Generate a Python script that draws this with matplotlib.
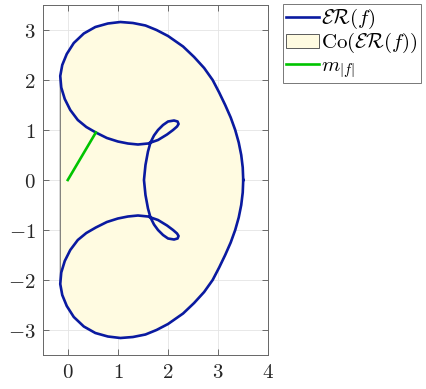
"""Essential range of f, its convex hull and the distance segment m_|f|."""

import numpy as np
import matplotlib

matplotlib.use("Agg")
import matplotlib.pyplot as plt
from matplotlib.patches import Polygon

# -----------------------------------------------------------------------------
# DATA
# -----------------------------------------------------------------------------
# boundary curve ER(f), traced counter-clockwise starting at the rightmost point
curve_x = [
    3.50, 3.49, 3.46, 3.41, 3.34, 3.25, 3.14, 3.02, 2.89, 2.72, 2.52, 2.30,
    2.00, 1.77, 1.55, 1.30, 1.05, 0.80, 0.55, 0.32, 0.12, -0.02, -0.11, -0.15,
    -0.13, -0.06, 0.05, 0.20, 0.37, 0.56, 0.78, 1.00, 1.20, 1.40, 1.60, 1.80,
    1.98, 2.10, 2.18, 2.21, 2.19, 2.12, 2.00, 1.90, 1.80, 1.72, 1.65, 1.60,
    1.55, 1.52,
    1.55, 1.60, 1.65, 1.72, 1.80, 1.90, 2.00, 2.12, 2.19, 2.21, 2.18, 2.10,
    1.98, 1.80, 1.60, 1.40, 1.20, 1.00, 0.78, 0.56, 0.37, 0.20, 0.05, -0.06,
    -0.13, -0.15, -0.11, -0.02, 0.12, 0.32, 0.55, 0.80, 1.05, 1.30, 1.55, 1.77,
    2.00, 2.30, 2.52, 2.72, 2.89, 3.02, 3.14, 3.25, 3.34, 3.41, 3.46, 3.49,
    3.50,
]
curve_y = [
    0.00, 0.25, 0.50, 0.75, 1.00, 1.25, 1.50, 1.75, 2.00, 2.24, 2.46, 2.67,
    2.88, 3.00, 3.09, 3.14, 3.16, 3.13, 3.06, 2.93, 2.74, 2.52, 2.30, 2.08,
    1.85, 1.62, 1.40, 1.20, 1.06, 0.95, 0.84, 0.77, 0.73, 0.71, 0.73, 0.80,
    0.91, 1.00, 1.07, 1.12, 1.17, 1.19, 1.17, 1.10, 1.00, 0.89, 0.75, 0.57,
    0.30, 0.00,
    -0.30, -0.57, -0.75, -0.89, -1.00, -1.10, -1.17, -1.19, -1.17, -1.12, -1.07, -1.00,
    -0.91, -0.80, -0.73, -0.71, -0.73, -0.77, -0.84, -0.95, -1.06, -1.20, -1.40, -1.62,
    -1.85, -2.08, -2.30, -2.52, -2.74, -2.93, -3.06, -3.13, -3.16, -3.14, -3.09, -3.00,
    -2.88, -2.67, -2.46, -2.24, -2.00, -1.75, -1.50, -1.25, -1.00, -0.75, -0.50, -0.25,
    0.00,
]

# segment from the origin to the nearest point of the range
m_x = [0.0, 0.56]
m_y = [0.0, 0.95]

xticks = [0, 1, 2, 3, 4]
yticks = [-3, -2, -1, 0, 1, 2, 3]

labels = [r"$\mathcal{ER}(f)$", r"$\mathrm{Co}(\mathcal{ER}(f))$", r"$m_{|f|}$"]

CURVE_COLOR = "#0a1aa0"
HULL_COLOR = "#fffbe1"
M_COLOR = "#00c400"

plt.rcParams["mathtext.fontset"] = "cm"


def convex_hull(xs, ys):
    """Monotone chain hull of the traced curve."""
    pts = sorted(set(zip(xs, ys)))

    def cross(o, a, b):
        return (a[0] - o[0]) * (b[1] - o[1]) - (a[1] - o[1]) * (b[0] - o[0])

    lower, upper = [], []
    for p in pts:
        while len(lower) >= 2 and cross(lower[-2], lower[-1], p) <= 0:
            lower.pop()
        lower.append(p)
    for p in reversed(pts):
        while len(upper) >= 2 and cross(upper[-2], upper[-1], p) <= 0:
            upper.pop()
        upper.append(p)
    return np.array(lower[:-1] + upper[:-1])


fig = plt.figure(figsize=(4.26, 3.89), dpi=100)
ax = fig.add_axes([42.7 / 426, 1 - 355 / 389, 225.6 / 426, 350 / 389])

hull = Polygon(convex_hull(curve_x, curve_y), closed=True,
               facecolor=HULL_COLOR, edgecolor="#5a5a5a", linewidth=0.7,
               zorder=1)
ax.add_patch(hull)
line_er, = ax.plot(curve_x, curve_y, color=CURVE_COLOR, linewidth=1.9,
                   solid_joinstyle="round", zorder=3)
line_m, = ax.plot(m_x, m_y, color=M_COLOR, linewidth=1.9, zorder=3)

ax.set_xlim(-0.5, 4)
ax.set_ylim(-3.5, 3.5)
ax.set_xticks(xticks, labels=[f"${v}$" for v in xticks])
ax.set_yticks(yticks, labels=[f"${v}$" for v in yticks])
ax.tick_params(direction="in", length=4, width=0.6, color="#555555",
               top=True, right=True, labelsize=15, labelcolor="#262626", pad=5)
ax.grid(True, color="#e4e4e4", linewidth=0.6, zorder=0)
ax.set_axisbelow(True)
for side in ax.spines.values():
    side.set_color("#666666")
    side.set_linewidth(0.7)

leg = fig.legend(
    [line_er, hull, line_m], labels,
    loc="upper left", bbox_to_anchor=(283 / 426, 1 - 4 / 389),
    borderaxespad=0, fontsize=15, frameon=True, fancybox=False,
    edgecolor="#555555", handlelength=1.6, handletextpad=0.08,
    labelspacing=0.0, borderpad=0.15,
)
leg.get_frame().set_linewidth(0.7)

fig.savefig("out.png", dpi=100)
